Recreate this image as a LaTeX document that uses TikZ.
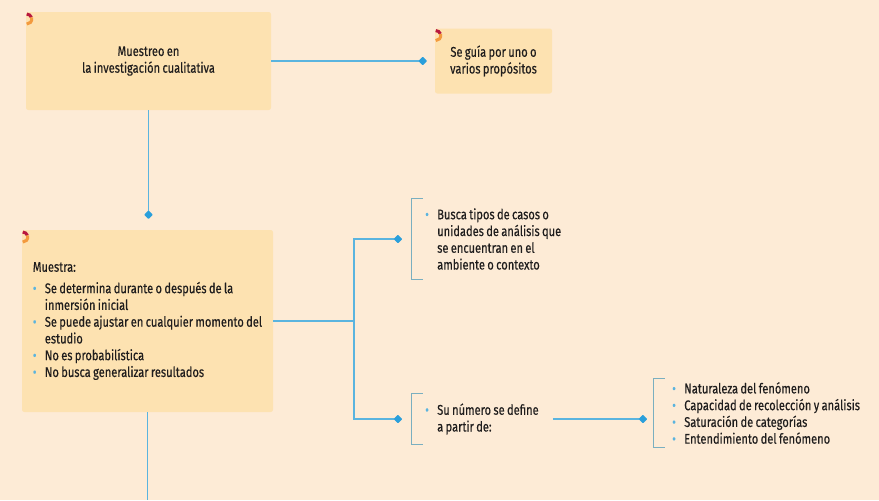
\documentclass[tikz,border=0pt]{standalone}
\usepackage{fontspec}
\setmainfont{Fira Sans}[FakeStretch=0.79, FakeBold=0.35, WordSpace=0.8]
\usetikzlibrary{arrows.meta}

\definecolor{paper}{HTML}{FDEBD6}
\definecolor{cardfill}{HTML}{FDE2B1}
\definecolor{ink}{HTML}{1F1D1D}
\definecolor{wire}{HTML}{5AB4DF}
\definecolor{tipblue}{HTML}{2A9FDB}
\definecolor{bracket}{HTML}{7AAFC0}
\definecolor{dotblue}{HTML}{5AB4DF}
\definecolor{markred}{HTML}{B8173F}
\definecolor{markorange}{HTML}{F39A3E}

\newcommand{\itemdot}{\makebox[0.36cm][l]{\textcolor{dotblue}{\textbullet}}}
\newcommand{\itemgap}{\hspace*{0.36cm}}
\newcommand{\cornermark}[1]{%
  \draw[line width=2.6pt, markred]    ([shift={(0.03,-0.22)}]#1.north west) ++(90:0.15) arc[start angle=90, end angle=20, radius=0.15];
  \draw[line width=2.6pt, markorange] ([shift={(0.03,-0.22)}]#1.north west) ++(20:0.15) arc[start angle=20, end angle=-90, radius=0.15];}

\begin{document}
\begin{tikzpicture}[
  font=\fontsize{12}{14.3}\selectfont,
  every node/.style={text=ink},
  card/.style={fill=cardfill, rounded corners=2pt, align=center, inner sep=0pt},
  flow/.style={draw=wire, line width=1pt},
  arrowto/.style={flow, -{Diamond[length=0.26cm, width=0.26cm, color=tipblue, round]}, shorten >=#1},
  arrowto/.default=0.27cm,
  brace/.style={draw=bracket, line width=0.8pt},
  list/.style={align=left, anchor=west, inner ysep=0.28cm, inner xsep=0.42cm},
]

% ---------------- page ----------------
\fill[paper] (0,0) rectangle (26.37,-15);
\useasboundingbox (0,0) rectangle (26.37,-15);

% ---------------- cards ----------------
\node[card, minimum width=7.35cm, minimum height=2.94cm] (muestreo) at (4.455,-1.83)
  {Muestreo en\\la investigación cualitativa};
\node[card, minimum width=3.51cm, minimum height=1.95cm] (guia) at (14.805,-1.83)
  {Se guía por uno o\\varios propósitos};
\node[card, minimum width=7.53cm, minimum height=5.46cm, align=left] (muestra) at (4.425,-9.63)
  {Muestra:\\[4pt]
   \itemdot Se determina durante o después de la\\
   \itemgap inmersión inicial\\
   \itemdot Se puede ajustar en cualquier momento del\\
   \itemgap estudio\\
   \itemdot No es probabilística\\
   \itemdot No busca generalizar resultados};

\cornermark{muestreo}
\cornermark{guia}
\cornermark{muestra}

% ---------------- bracketed lists ----------------
\node[list] (casos) at (12.33,-7.17)
  {\itemdot Busca tipos de casos o\\
   \itemgap unidades de análisis que\\
   \itemgap se encuentran en el\\
   \itemgap ambiente o contexto};
\node[list] (numero) at (12.33,-12.57)
  {\itemdot Su número se define\\
   \itemgap a partir de:};
\node[list, inner ysep=0.1cm, inner xsep=0.57cm] (factores) at (19.59,-12.39)
  {\itemdot Naturaleza del fenómeno\\
   \itemdot Capacidad de recolección y análisis\\
   \itemdot Saturación de categorías\\
   \itemdot Entendimiento del fenómeno};

\foreach \n in {casos,numero,factores}
  \draw[brace] ([xshift=0.35cm]\n.north west) -- (\n.north west) -- (\n.south west) -- ++(0.35,0);

% ---------------- connectors ----------------
\draw[arrowto=0.24cm] (muestreo.east) -- (guia.west);
\draw[arrowto=0.33cm] (muestreo.south) -- (muestreo.south |- muestra.north);

\coordinate (fork) at (10.62,-9.63);
\draw[flow] (muestra.east) -- (fork);
\draw[arrowto] (fork) |- (casos.west);
\draw[arrowto] (fork) |- (numero.west);
\draw[arrowto=0.18cm] (numero.east) -- (numero.east -| factores.west);

\coordinate (bottom) at (muestra.south |- 0,-15);
\draw[flow] (muestra.south) -- (bottom);

\end{tikzpicture}
\end{document}
